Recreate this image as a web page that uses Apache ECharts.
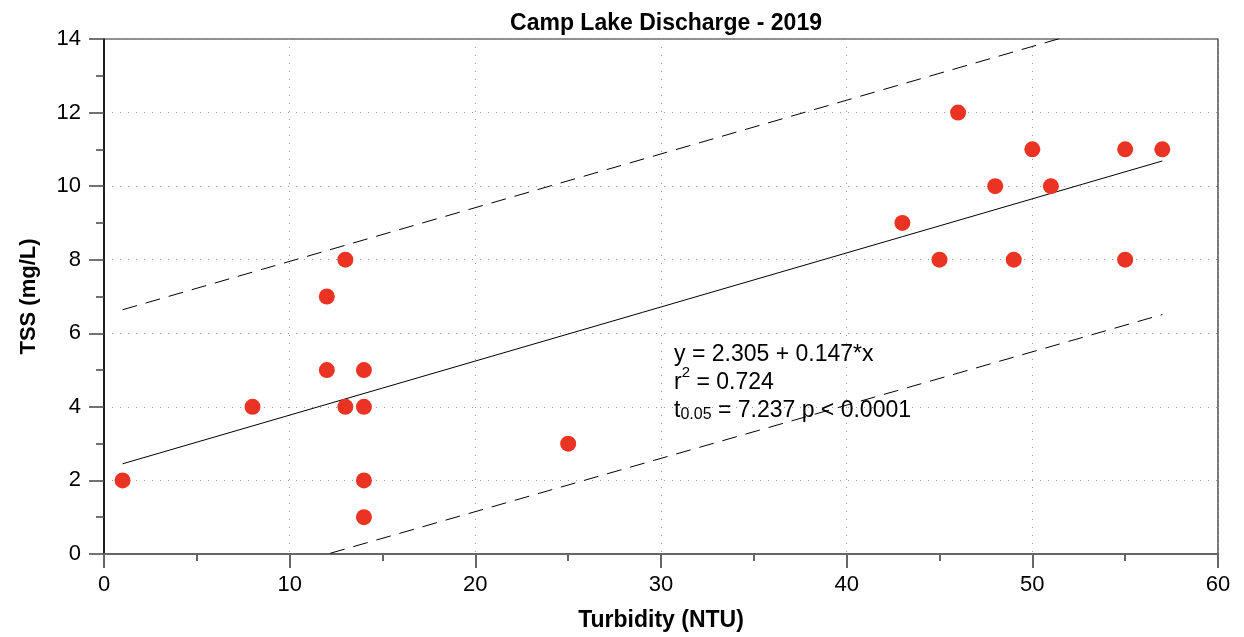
<!DOCTYPE html>
<html>
<head>
<meta charset="utf-8">
<script src="https://cdn.jsdelivr.net/npm/echarts@6/dist/echarts.min.js"></script>
<style>
  html, body { margin: 0; padding: 0; background: #fff; }
  #chart { width: 1244px; height: 637px; }
</style>
</head>
<body>
<div id="chart"></div>
<script>
// Turbidity (NTU) vs TSS (mg/L) samples
const turbidity = [1, 8, 12, 12, 13, 13, 14, 14, 14, 14, 25, 43, 45, 46, 48, 49, 50, 51, 55, 55, 57];
const tss       = [2, 4, 7, 5, 8, 4, 5, 4, 2, 1, 3, 9, 8, 12, 10, 8, 11, 10, 11, 8, 11];

// Fitted regression y = a + b*x and its band
const intercept = 2.305;
const slope = 0.147;
const fitRange = [1, 57];
const upperBand = [[1, 6.64], [57, 14.82]];
const lowerBand = [[1, -1.60], [57, 6.51]];

const xTicks = [0, 10, 20, 30, 40, 50, 60];
const yTicks = [0, 2, 4, 6, 8, 10, 12, 14];

const FONT = '"Liberation Sans", Arial, Helvetica, sans-serif';

const points = turbidity.map((x, i) => [x, tss[i]]);
const fitLine = fitRange.map(x => [x, intercept + slope * x]);

const chart = echarts.init(document.getElementById('chart'), null, { renderer: 'canvas' });

const option = {
  animation: false,
  backgroundColor: '#fff',
  title: {
    text: 'Camp Lake Discharge - 2019',
    left: 661, top: 7, textAlign: 'center',
    textStyle: { fontFamily: FONT, fontSize: 23, fontWeight: 'bold', color: '#000' }
  },
  grid: {
    left: 104, right: 26, top: 39, bottom: 79,
    show: true, borderColor: '#222', borderWidth: 1.2, backgroundColor: 'transparent'
  },
  xAxis: {
    type: 'value', min: xTicks[0], max: xTicks[xTicks.length - 1], interval: 10,
    name: 'Turbidity (NTU)', nameLocation: 'middle', nameGap: 55,
    nameTextStyle: { fontFamily: FONT, fontSize: 23, fontWeight: 'bold', color: '#000' },
    axisLine: { show: true, onZero: false, lineStyle: { color: '#666', width: 2 } },
    axisTick: { show: true, inside: false, length: 14, lineStyle: { color: '#666', width: 2 } },
    minorTick: { show: true, splitNumber: 2, length: 7, lineStyle: { color: '#666', width: 2 } },
    axisLabel: { fontFamily: FONT, fontSize: 22, color: '#000', margin: 20 },
    splitLine: { show: true, lineStyle: { color: '#999', width: 1, type: [1, 7] } }
  },
  yAxis: {
    type: 'value', min: yTicks[0], max: yTicks[yTicks.length - 1], interval: 2,
    name: 'TSS (mg/L)', nameLocation: 'middle', nameGap: 64, nameRotate: 90,
    nameTextStyle: { fontFamily: FONT, fontSize: 22, fontWeight: 'bold', color: '#000' },
    axisLine: { show: true, onZero: false, lineStyle: { color: '#000', width: 1.5 } },
    axisTick: { show: true, inside: false, length: 15, lineStyle: { color: '#444', width: 1.5 } },
    minorTick: { show: true, splitNumber: 2, length: 8, lineStyle: { color: '#444', width: 1.5 } },
    axisLabel: { fontFamily: FONT, fontSize: 22, color: '#000', margin: 23 },
    splitLine: { show: true, lineStyle: { color: '#999', width: 1, type: [1, 7] } }
  },
  series: [
    {
      name: 'upper', type: 'line', data: upperBand, symbol: 'none', clip: true, silent: true,
      lineStyle: { color: '#000', width: 1, type: [15, 9] }, z: 2
    },
    {
      name: 'lower', type: 'line', data: lowerBand, symbol: 'none', clip: true, silent: true,
      lineStyle: { color: '#000', width: 1, type: [15, 9] }, z: 2
    },
    {
      name: 'fit', type: 'line', data: fitLine, symbol: 'none', clip: true, silent: true,
      lineStyle: { color: '#000', width: 1 }, z: 2
    },
    {
      name: 'samples', type: 'scatter', data: points, symbol: 'circle', symbolSize: 16,
      itemStyle: { color: '#EA3323', opacity: 1 }, z: 3
    }
  ]
};

chart.setOption(option);

// Regression statistics text block, anchored in data coordinates
const anchor = chart.convertToPixel({ gridIndex: 0 }, [30.7, 5.5]);
const lh = 28;
const top0 = anchor[1] - 9;
chart.setOption({
  graphic: [
    {
      type: 'text', left: anchor[0], top: top0, z: 10,
      style: { text: 'y = 2.305 + 0.147*x', font: '23px ' + FONT, fill: '#000' }
    },
    {
      type: 'text', left: anchor[0], top: top0 + lh - 5, z: 10,
      style: {
        text: 'r{sup|2} = 0.724',
        font: '23px ' + FONT, fill: '#000',
        rich: { sup: { fontSize: 15, fontFamily: FONT, padding: [0, 0, 18, 0] } }
      }
    },
    {
      type: 'text', left: anchor[0], top: top0 + 2 * lh, z: 10,
      style: {
        text: 't{sub|0.05} = 7.237 p < 0.0001',
        font: '23px ' + FONT, fill: '#000',
        rich: { sub: { fontSize: 16, fontFamily: FONT, padding: [8, 0, 0, 0] } }
      }
    }
  ]
});
</script>
</body>
</html>
